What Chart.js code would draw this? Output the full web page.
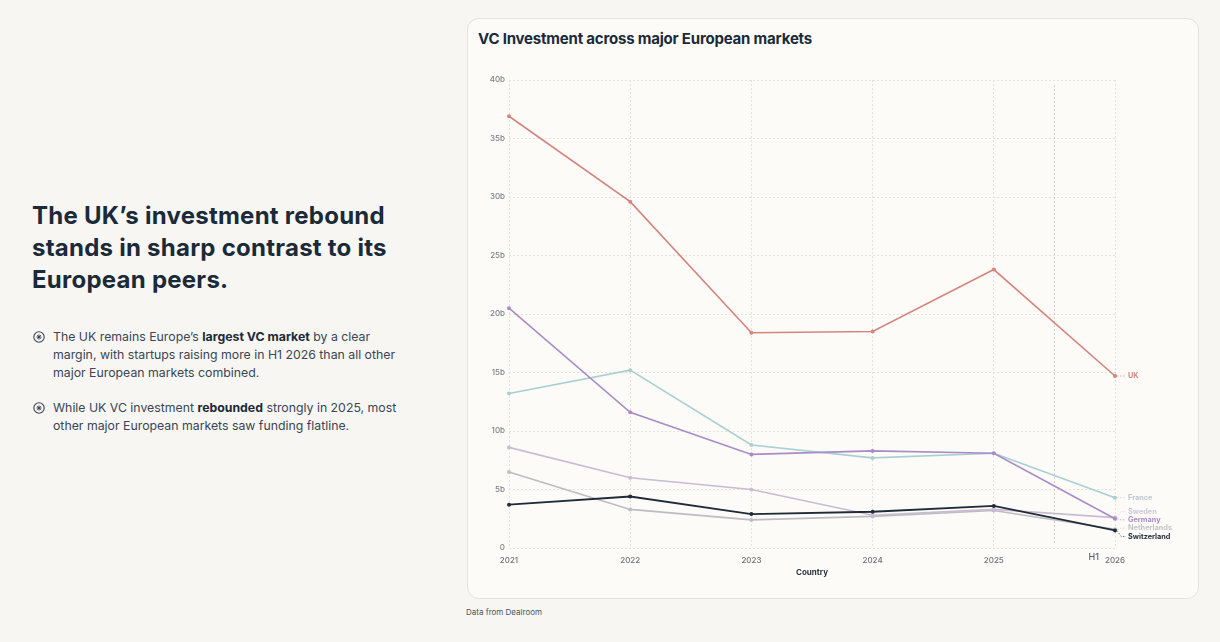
<!DOCTYPE html>
<html>
<head>
<meta charset="utf-8">
<script src="https://cdn.jsdelivr.net/npm/chart.js@4.4.1/dist/chart.umd.min.js"></script>
<style>
  html,body{margin:0;padding:0;}
  body{width:1220px;height:642px;background:#f7f6f2;position:relative;overflow:hidden;font-family:Inter,"Open Sans",sans-serif;color:#1b2a38;}
  .headline{position:absolute;left:32px;top:200px;font-size:24px;line-height:32px;font-weight:700;letter-spacing:0.25px;color:#1b2a38;margin:0;}
  .bullet{position:absolute;left:53px;font-size:12.3px;line-height:18px;color:#3a4654;}
  .bullet b{color:#1b2a38;font-weight:700;}
  .icon{position:absolute;left:33px;width:12px;height:12px;}
  .card{position:absolute;left:467px;top:18px;width:730px;height:579px;background:#fcfbf8;border:1px solid #e6e3dd;border-radius:12px;}
  .ctitle{position:absolute;left:478px;top:29px;font-size:15px;line-height:20px;font-weight:700;letter-spacing:-0.2px;color:#1b2a38;}
  .source{position:absolute;left:466px;top:607px;font-size:8px;color:#4a5560;}
  #wrap{position:absolute;left:467px;top:60px;width:731px;height:525px;}
</style>
</head>
<body>
<div class="headline">The UK’s investment rebound<br>stands in sharp contrast to its<br>European peers.</div>

<svg class="icon" style="top:331px" viewBox="0 0 12 12"><circle cx="6" cy="6" r="5.2" fill="none" stroke="#3a4654" stroke-width="1.1"/><g stroke="#3a4654" stroke-width="1"><line x1="6" y1="3.4" x2="6" y2="8.6"/><line x1="3.4" y1="6" x2="8.6" y2="6"/><line x1="4.2" y1="4.2" x2="7.8" y2="7.8"/><line x1="7.8" y1="4.2" x2="4.2" y2="7.8"/></g></svg>
<div class="bullet" style="top:328px">The UK remains Europe’s <b>largest VC market</b> by a clear<br>margin, with startups raising more in H1 2026 than all other<br>major European markets combined.</div>

<svg class="icon" style="top:402px" viewBox="0 0 12 12"><circle cx="6" cy="6" r="5.2" fill="none" stroke="#3a4654" stroke-width="1.1"/><g stroke="#3a4654" stroke-width="1"><line x1="6" y1="3.4" x2="6" y2="8.6"/><line x1="3.4" y1="6" x2="8.6" y2="6"/><line x1="4.2" y1="4.2" x2="7.8" y2="7.8"/><line x1="7.8" y1="4.2" x2="4.2" y2="7.8"/></g></svg>
<div class="bullet" style="top:399px">While UK VC investment <b>rebounded</b> strongly in 2025, most<br>other major European markets saw funding flatline.</div>

<div class="card"></div>
<div class="ctitle">VC Investment across major European markets</div>
<div id="wrap"><canvas id="c"></canvas></div>
<div class="source">Data from Dealroom</div>

<script>
const years = ['2021','2022','2023','2024','2025','2026'];
const yTicks = [0,5,10,15,20,25,30,35,40];
const uk          = [36.9, 29.6, 18.4, 18.5, 23.8, 14.7];
const germany     = [20.5, 11.6, 8.0, 8.3, 8.1, 2.5];
const france      = [13.2, 15.2, 8.8, 7.7, 8.1, 4.3];
const sweden      = [8.6, 6.0, 5.0, 2.8, 3.3, 2.6];
const netherlands = [6.5, 3.3, 2.4, 2.7, 3.2, 1.6];
const switzerland = [3.7, 4.4, 2.9, 3.1, 3.6, 1.5];
const seriesNames = ['UK','Germany','France','Sweden','Netherlands','Switzerland'];

const colors = {
  UK:'#d3857d', Germany:'#a98bc6', France:'#a9cfd1',
  Sweden:'#c8bdd0', Netherlands:'#bdbcc2', Switzerland:'#1f2b38'
};
const labelColors = {
  UK:'#d3857d', Germany:'#a98bc6', France:'#bfc8d0',
  Sweden:'#cfc8d8', Netherlands:'#c4c4ca', Switzerland:'#1f2b38'
};
const dataMap = {UK:uk, Germany:germany, France:france, Sweden:sweden, Netherlands:netherlands, Switzerland:switzerland};
const orders = {UK:1, Germany:2, France:3, Sweden:4, Netherlands:5, Switzerland:0};

const datasets = seriesNames.map(n => ({
  label:n, data:dataMap[n], borderColor:colors[n], backgroundColor:colors[n],
  borderWidth: n==='Switzerland'?1.8:1.6, pointRadius:2, pointHoverRadius:2,
  pointBorderWidth:0, tension:0, order:orders[n]
}));

const extras = {
  id:'extras',
  beforeDatasetsDraw(chart){
    const {ctx, chartArea, scales:{x}} = chart;
    const xm = (x.getPixelForValue(4) + x.getPixelForValue(5))/2;
    ctx.save();
    ctx.strokeStyle = '#cfccc6';
    ctx.lineWidth = 1;
    ctx.setLineDash([2,2]);
    ctx.beginPath();
    ctx.moveTo(xm, chartArea.top+5);
    ctx.lineTo(xm, chartArea.bottom-3);
    ctx.stroke();
    ctx.restore();
  },
  afterDatasetsDraw(chart){
    const {ctx, scales:{x,y}} = chart;
    const xe = x.getPixelForValue(5);
    ctx.save();
    ctx.font = '500 9px Inter, sans-serif';
    ctx.fillStyle = '#5b6570';
    ctx.textAlign = 'right';
    ctx.textBaseline = 'middle';
    ctx.fillText('H1', xe - 16, chart.chartArea.bottom + 9);
    const items = seriesNames.map(n => ({n, py: y.getPixelForValue(dataMap[n][5])}));
    items.sort((a,b)=>a.py-b.py);
    const gap = 8.3;
    let groups = items.map(it => ({items:[it]}));
    function layoutGroup(g){ const mean = g.items.reduce((s,i)=>s+i.py,0)/g.items.length; g.start = mean - gap*(g.items.length-1)/2; }
    groups.forEach(layoutGroup);
    let changed = true;
    while(changed){
      changed=false;
      for(let i=0;i<groups.length-1;i++){
        const a=groups[i], b=groups[i+1];
        const aEnd = a.start + gap*(a.items.length-1);
        if(b.start - aEnd < gap){
          a.items = a.items.concat(b.items); layoutGroup(a); groups.splice(i+1,1); changed=true; break;
        }
      }
    }
    ctx.font = '700 7.3px Inter, sans-serif';
    ctx.textAlign = 'left';
    groups.forEach(g => g.items.forEach((it,k) => {
      const ly = g.start + k*gap;
      ctx.strokeStyle = labelColors[it.n];
      ctx.globalAlpha = 0.8;
      ctx.lineWidth = 0.8;
      ctx.setLineDash([1.5,1.5]);
      ctx.beginPath();
      ctx.moveTo(xe+2, it.py);
      ctx.lineTo(xe+6, ly);
      ctx.lineTo(xe+11, ly);
      ctx.stroke();
      ctx.globalAlpha = 1;
      ctx.fillStyle = labelColors[it.n];
      ctx.fillText(it.n, xe+13, ly);
    }));
    ctx.restore();
  }
};

new Chart(document.getElementById('c'), {
  type:'line',
  data:{labels:years, datasets},
  plugins:[extras],
  options:{
    responsive:true, maintainAspectRatio:false, animation:false,
    layout:{padding:{left:0, right:83, top:20, bottom:8}},
    plugins:{legend:{display:false}, tooltip:{enabled:false}},
    scales:{
      x:{
        type:'category', offset:false,
        grid:{color:'#e4e2dd', lineWidth:1, drawTicks:false},
        border:{display:false, dash:[2,2]},
        ticks:{color:'#6b7078', font:{family:'Inter', size:8, weight:'500'}, padding:8, maxRotation:0},
        title:{display:true, text:'Country', color:'#2a3440', font:{family:'Inter', size:8, weight:'700'}, padding:{top:2,bottom:0}},
        afterFit(s){ s.height = 29; }
      },
      y:{
        min:0, max:40,
        afterBuildTicks(s){ s.ticks = yTicks.map(v=>({value:v})); },
        grid:{color:'#e4e2dd', lineWidth:1, drawTicks:false},
        border:{display:false, dash:[2,2]},
        ticks:{color:'#7a7f86', font:{family:'Inter', size:8, weight:'500'}, padding:4,
          callback:v => v===0 ? '0' : v+'b'},
        afterFit(s){ s.width = 42; }
      }
    }
  }
});
</script>
</body>
</html>
